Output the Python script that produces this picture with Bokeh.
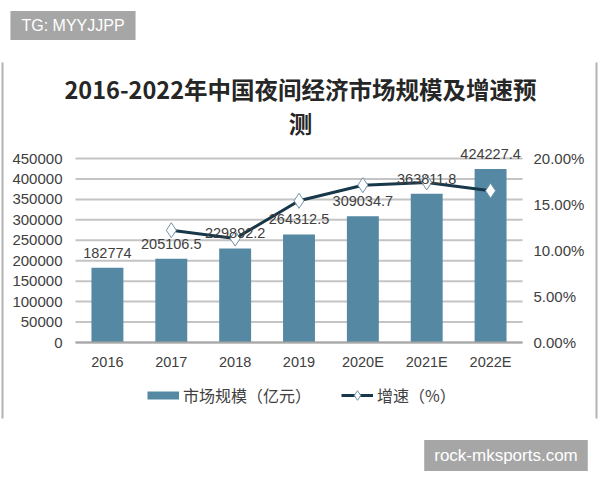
from bokeh.plotting import figure
from bokeh.models import (ColumnDataSource, Range1d, LinearAxis, FixedTicker,
                          PrintfTickFormatter, LabelSet, Label, Legend, LegendItem)
from bokeh.core.properties import value
from bokeh.embed import file_html
from bokeh.resources import INLINE

# ---- data ----
years = ["2016", "2017", "2018", "2019", "2020E", "2021E", "2022E"]
market_size = [182774, 205106.5, 229892.2, 264312.5, 309034.7, 363811.8, 424227.4]
growth_years = ["2017", "2018", "2019", "2020E", "2021E", "2022E"]
growth_pct = [12.2, 11.3, 15.4, 17.1, 17.4, 16.5]
left_ticks = [0, 50000, 100000, 150000, 200000, 250000, 300000, 350000, 400000, 450000]
right_ticks = [0, 5, 10, 15, 20]
title_line1 = "2016-2022年中国夜间经济市场规模及增速预"
title_line2 = "测"
bar_legend = "市场规模（亿元）"
line_legend = "增速（%）"
watermark1 = "TG: MYYJJPP"
watermark2 = "rock-mksports.com"

def fmt(v):
    s = "%.1f" % v
    if s.endswith(".0"):
        s = s[:-2]
    return s

CJK = "Noto Sans CJK SC"
LAT = "Liberation Sans"
TXT = "#404040"
BAR = "#5589a3"
LINE = "#17374a"
MK_LINE = "#6f93a6"
WM = "#a6a6a6"

# ---- layout geometry (pixels) ----
W, H = 600, 480
PLOT_L, PLOT_R = 75, 522      # plot area left/right edge
Y0_PX, YTOP_PX = 342, 158     # pixel rows of value 0 and of the top tick
BOX_L, BOX_R, BOX_T, BOX_B = 2, 596, 62, 418   # screenshot frame of the chart
n = len(years)
slot = (PLOT_R - PLOT_L) / n
x_start = -0.5 - PLOT_L / slot
x_end = n - 0.5 + (W - PLOT_R) / slot
k_left = left_ticks[-1] / (Y0_PX - YTOP_PX)
k_right = right_ticks[-1] / (Y0_PX - YTOP_PX)

p = figure(width=W, height=H, x_range=Range1d(x_start, x_end),
           y_range=Range1d(-(H - Y0_PX) * k_left, Y0_PX * k_left),
           output_backend="svg", toolbar_location=None,
           x_axis_location=None, y_axis_location=None,
           min_border=0, min_border_left=0, min_border_right=0,
           min_border_top=0, min_border_bottom=0)
p.extra_y_ranges = {"pct": Range1d(-(H - Y0_PX) * k_right, Y0_PX * k_right),
                    "px": Range1d(H, 0)}
p.extra_x_ranges = {"px": Range1d(0, W)}
p.grid.visible = False
p.outline_line_color = None
p.background_fill_color = "white"
p.border_fill_color = "white"

x_idx = list(range(n))
g_idx = [years.index(y) for y in growth_years]

# ---- side borders of the chart box ----
p.segment(x0=[BOX_L, BOX_R], x1=[BOX_L, BOX_R], y0=[BOX_T, BOX_T], y1=[BOX_B, BOX_B],
          x_range_name="px", y_range_name="px", line_color="#b3b3b3", line_width=2)

# ---- gridlines ----
p.segment(x0=[-0.5] * len(left_ticks), x1=[n - 0.5] * len(left_ticks), y0=left_ticks,
          y1=left_ticks, line_color="#c4c4c4", line_width=2)

# ---- axes (fixed inside the frame) ----
ly = LinearAxis(ticker=FixedTicker(ticks=left_ticks), formatter=PrintfTickFormatter(format="%d"),
                fixed_location=-0.5)
ly.axis_line_color = None
ly.major_tick_line_color = None
ly.minor_tick_line_color = None
ly.major_tick_out = 0
ly.major_label_standoff = 13
ly.major_label_text_font = LAT
ly.major_label_text_font_size = "15px"
ly.major_label_text_color = TXT
p.add_layout(ly, "left")

ry = LinearAxis(y_range_name="pct", ticker=FixedTicker(ticks=right_ticks),
                formatter=PrintfTickFormatter(format="%.2f%%"), fixed_location=n - 0.5)
ry.axis_line_color = None
ry.major_tick_line_color = None
ry.minor_tick_line_color = None
ry.major_tick_out = 0
ry.major_label_standoff = 11
ry.major_label_text_font = LAT
ry.major_label_text_font_size = "15px"
ry.major_label_text_color = TXT
p.add_layout(ry, "right")

bx = LinearAxis(ticker=FixedTicker(ticks=x_idx),
                major_label_overrides={i: y for i, y in zip(x_idx, years)},
                fixed_location=0, bounds=(-0.5, n - 0.5))
bx.axis_line_color = "#a6a6a6"
bx.axis_line_width = 2
bx.major_tick_line_color = None
bx.minor_tick_line_color = None
bx.major_tick_out = 0
bx.major_label_standoff = 11
bx.major_label_text_font = LAT
bx.major_label_text_font_size = "14.5px"
bx.major_label_text_color = TXT
p.add_layout(bx, "below")

# ---- bars, line, labels ----
src = ColumnDataSource(dict(x=x_idx, y=market_size, t=[fmt(v) for v in market_size]))
p.vbar(x="x", top="y", width=0.5, source=src, fill_color=BAR, line_color=None)

gsrc = ColumnDataSource(dict(x=g_idx, y=growth_pct))
ln = p.line(x="x", y="y", source=gsrc, y_range_name="pct", line_color=LINE, line_width=3)
mk = p.scatter(x="x", y="y", source=gsrc, y_range_name="pct", marker="diamond", size=15,
               fill_color="white", line_color=MK_LINE, line_width=1)

p.add_layout(LabelSet(x="x", y="y", text="t", source=src, text_align="center",
                      text_baseline="bottom", y_offset=10, text_font=value(LAT),
                      text_font_size="14.5px", text_color=TXT))

# ---- title and watermarks (pixel range) ----
def px_label(x, y, text, **kw):
    p.add_layout(Label(x=x, y=y, x_range_name="px", y_range_name="px", text=text,
                       text_align="center", text_baseline="middle", **kw))

px_label(72.5, 25, watermark1, text_font=LAT, text_font_size="16px", text_color="white",
         background_fill_color=WM, padding=(11, 6))
px_label(300, 88, title_line1, text_font=CJK, text_font_size="23.5px", text_font_style="bold",
         text_color="#262626")
px_label(300, 122, title_line2, text_font=CJK, text_font_size="23.5px", text_font_style="bold",
         text_color="#262626")
px_label(505.5, 455, watermark2, text_font=LAT, text_font_size="17px", text_color="white",
         background_fill_color=WM, padding=(10, 6))

# ---- legend ----
nan = float("nan")
pb_bar = p.line(x=[nan], y=[nan], line_color=BAR, line_width=8)
legend = Legend(items=[LegendItem(label=bar_legend, renderers=[pb_bar]),
                       LegendItem(label=line_legend, renderers=[ln, mk])],
                orientation="horizontal", location=(147, H - 407),
                glyph_width=32, glyph_height=24, label_standoff=4, spacing=30,
                padding=0, margin=0,
                label_text_font=CJK, label_text_font_size="16px", label_text_color=TXT,
                background_fill_alpha=0, border_line_alpha=0)
p.add_layout(legend)

open("out.html", "w").write(file_html(p, INLINE))
